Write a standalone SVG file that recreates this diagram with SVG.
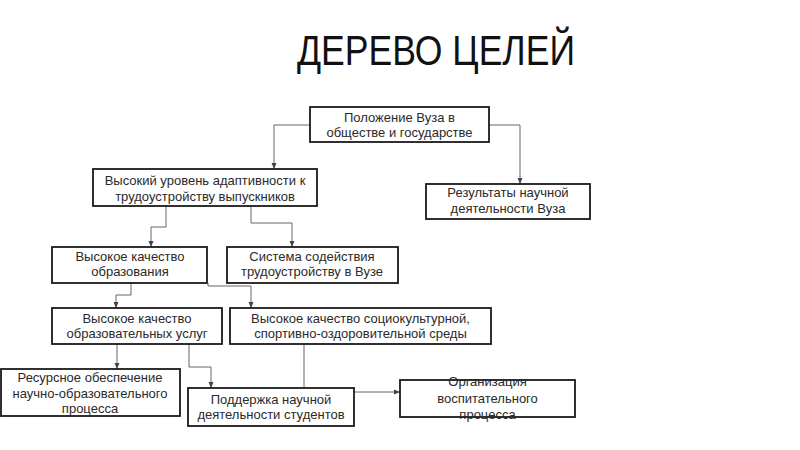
<svg xmlns="http://www.w3.org/2000/svg" width="800" height="450" viewBox="0 0 800 450">
<style>
.box{fill:#fff;stroke:#1a1a1a;stroke-width:1.8}
.t{font-family:"Liberation Sans",Arial,sans-serif;font-size:13px;fill:#2a2a2a;text-anchor:middle}
.title{font-family:"Liberation Sans",Arial,sans-serif;font-size:42px;fill:#111}
.c{fill:none;stroke:#666;stroke-width:1}
</style>
<defs>
<marker id="arr" markerWidth="6" markerHeight="6" refX="6" refY="3" orient="auto" markerUnits="userSpaceOnUse">
<path d="M0,0.5 L6,3 L0,5.5 Z" fill="#444"/>
</marker>
</defs>
<rect width="800" height="450" fill="#fff"/>
<text class="title" x="297" y="65" textLength="278" lengthAdjust="spacingAndGlyphs">ДЕРЕВО ЦЕЛЕЙ</text>
<g id="connectors">
<path class="c" d="M310,125 H274 V169" marker-end="url(#arr)"/>
<path class="c" d="M489,125 H520 V184" marker-end="url(#arr)"/>
<path class="c" d="M166,206 V227 H151 V247" marker-end="url(#arr)"/>
<path class="c" d="M251,206 V223 H292 V247" marker-end="url(#arr)"/>
<path class="c" d="M131,283 V295 H116 V308" marker-end="url(#arr)"/>
<path class="c" d="M208,283 V286 H251 V308" marker-end="url(#arr)"/>
<path class="c" d="M117,344 V369" marker-end="url(#arr)"/>
<path class="c" d="M189,344 V367 H211 V388" marker-end="url(#arr)"/>
<path class="c" d="M304,344 V392 H400" marker-end="url(#arr)"/>
</g>
<g id="n1"><rect class="box" x="310" y="107" width="179" height="35"/>
<text class="t" x="399.5" y="122">Положение Вуза в</text><text class="t" x="399.5" y="137">обществе и государстве</text></g>
<g id="n2"><rect class="box" x="93" y="169" width="224" height="37"/>
<text class="t" x="205" y="185">Высокий уровень адаптивности к</text><text class="t" x="205" y="201">трудоустройству выпускников</text></g>
<g id="n3"><rect class="box" x="426" y="184" width="164" height="35"/>
<text class="t" x="508" y="197">Результаты научной</text><text class="t" x="508" y="213">деятельности Вуза</text></g>
<g id="n4"><rect class="box" x="52" y="247" width="155" height="36"/>
<text class="t" x="130" y="261">Высокое качество</text><text class="t" x="130" y="276">образования</text></g>
<g id="n5"><rect class="box" x="227" y="247" width="171" height="36"/>
<text class="t" x="312" y="261">Система содействия</text><text class="t" x="312" y="276">трудоустройству в Вузе</text></g>
<g id="n6"><rect class="box" x="52" y="308" width="170" height="36"/>
<text class="t" x="137" y="323">Высокое качество</text><text class="t" x="137" y="338">образовательных услуг</text></g>
<g id="n7"><rect class="box" x="230" y="308" width="261" height="36"/>
<text class="t" x="360.5" y="323">Высокое качество социокультурной,</text><text class="t" x="360.5" y="338">спортивно-оздоровительной среды</text></g>
<g id="n8"><rect class="box" x="1" y="369" width="179" height="47"/>
<text class="t" x="90" y="382">Ресурсное обеспечение</text><text class="t" x="90" y="398">научно-образовательного</text><text class="t" x="90" y="413">процесса</text></g>
<g id="n9"><rect class="box" x="188" y="388" width="166" height="38"/>
<text class="t" x="271" y="404">Поддержка научной</text><text class="t" x="271" y="419">деятельности студентов</text></g>
<g id="n10"><rect class="box" x="400" y="380" width="175" height="37"/>
<text class="t" x="487.5" y="386">Организация</text><text class="t" x="487.5" y="403">воспитательного</text><text class="t" x="487.5" y="419">процесса</text></g>
</svg>
